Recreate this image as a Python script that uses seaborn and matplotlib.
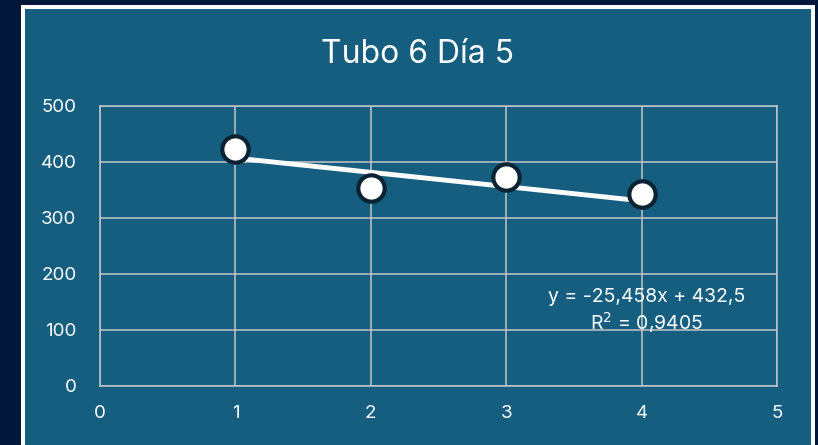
import matplotlib
matplotlib.use("Agg")
import matplotlib.pyplot as plt
from matplotlib.patches import Rectangle
import numpy as np
import pandas as pd
import seaborn as sns

# Measurements for tube 6, day 5
x_values = [1, 2, 3, 4]
y_values = [423, 353, 373, 342]

# Linear trendline as reported on the chart
trend_slope = -25.458
trend_intercept = 432.5
r_squared = 0.9405

title_text = "Tubo 6 Día 5"
x_ticks = [0, 1, 2, 3, 4, 5]
y_ticks = [0, 100, 200, 300, 400, 500]

OUTER_BG = "#03173a"
PANEL_BG = "#165e80"
GRID = "#c3c6c8"
FONT = "Inter"

sns.set_theme(style="white")
plt.rcParams["font.family"] = [FONT, "DejaVu Sans"]

W, H = 818, 445
fig = plt.figure(figsize=(W / 100, H / 100), dpi=100)
fig.patch.set_facecolor(OUTER_BG)

# Chart panel with white frame, kept behind the axes
fig.patches.append(Rectangle((23 / W, -0.05), (813 - 23) / W, 1 - 7 / H + 0.05,
                             transform=fig.transFigure, facecolor=PANEL_BG,
                             edgecolor="white", linewidth=2.9, zorder=-5))

ax = fig.add_axes([100 / W, 1 - 386 / H, (777 - 100) / W, (386 - 106) / H])
ax.set_facecolor("none")
ax.set_zorder(1)

df = pd.DataFrame({"x": x_values, "y": y_values})
tx = np.array([min(x_values), max(x_values)], dtype=float)
trend = pd.DataFrame({"x": tx, "y": trend_intercept + trend_slope * tx})

sns.lineplot(data=trend, x="x", y="y", ax=ax, color="white", linewidth=3.5,
             zorder=3, solid_capstyle="butt")
sns.scatterplot(data=df, x="x", y="y", ax=ax, s=19 ** 2, color="white",
                edgecolor="#0a2333", linewidth=3.0, zorder=4)

ax.set_xlim(x_ticks[0], x_ticks[-1])
ax.set_ylim(y_ticks[0], y_ticks[-1])
ax.set_xticks(x_ticks)
ax.set_yticks(y_ticks)
ax.set_xticklabels([str(t) for t in x_ticks])
ax.set_yticklabels([str(t) for t in y_ticks])
ax.set_xlabel("")
ax.set_ylabel("")
ax.grid(True, color=GRID, linewidth=1.1)
ax.set_axisbelow(True)
for side in ["left", "bottom", "right", "top"]:
    ax.spines[side].set_visible(True)
    ax.spines[side].set_color(GRID)
    ax.spines[side].set_linewidth(1.1)
ax.tick_params(axis="both", length=0, labelsize=13.5, labelcolor="white")
ax.tick_params(axis="y", pad=17)
ax.tick_params(axis="x", pad=14)

def fmt(v, nd):
    return f"{v:.{nd}f}".replace(".", ",")

eq = f"y = {fmt(trend_slope, 3)}x + {fmt(trend_intercept, 1)}"
r2 = f"R$^2$ = {fmt(r_squared, 4)}"
fig.text(647 / W, 1 - 297 / H, eq, color="white", fontsize=14,
         ha="center", va="center", zorder=10)
fig.text(647 / W, 1 - 323 / H, r2, color="white", fontsize=14,
         ha="center", va="center", zorder=10)

fig.text(417 / W, 1 - 62.7 / H, title_text, color="white", fontsize=23,
         ha="center", va="baseline")

fig.savefig("out.png", dpi=100, facecolor=OUTER_BG)
